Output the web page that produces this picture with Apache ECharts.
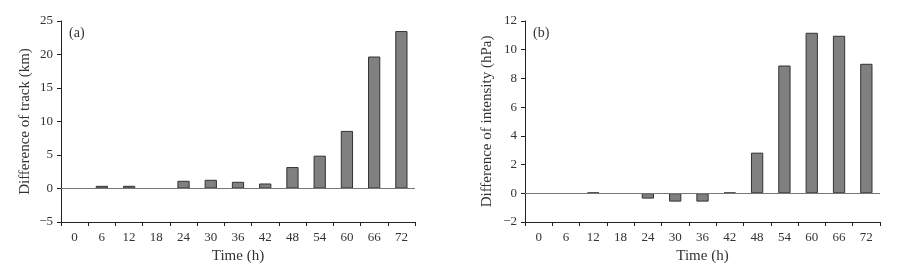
<!DOCTYPE html>
<html><head><meta charset="utf-8">
<script src="https://cdn.jsdelivr.net/npm/echarts@6/dist/echarts.min.js"></script>
<style>html,body{margin:0;padding:0;background:#fff}#c{width:909px;height:264px}</style>
</head><body><div id="c"></div>
<script>
const hours = ['0','6','12','18','24','30','36','42','48','54','60','66','72'];
const trackDiff = [0, 0.4, 0.4, 0, 1.15, 1.3, 1.0, 0.75, 3.2, 4.9, 8.6, 19.7, 23.5];
const intensityDiff = [0, 0, 0.05, 0, -0.37, -0.58, -0.58, 0.05, 2.83, 8.9, 11.18, 10.97, 9.02];
const trackTicks = {min: -5, max: 25, interval: 5};
const intensityTicks = {min: -2, max: 12, interval: 2};

const font = 'Liberation Serif';
const txt = '#333';
const axisCol = '#222';
const fmt = v => String(v).replace('-', '\u2212');

function xAx(gi){
  return {type:'category', gridIndex:gi, data:hours,
    axisLine:{onZero:false, lineStyle:{color:axisCol, width:1}},
    axisTick:{show:true, length:4, lineStyle:{color:axisCol}},
    axisLabel:{interval:0, color:txt, fontFamily:font, fontSize:13, margin:9},
    name:'Time (h)', nameLocation:'middle', nameGap:25,
    nameTextStyle:{color:txt, fontFamily:font, fontSize:15}};
}
function yAx(gi, t, name, gap){
  return {type:'value', gridIndex:gi, min:t.min, max:t.max, interval:t.interval,
    splitLine:{show:false},
    axisLine:{show:true, lineStyle:{color:axisCol, width:1}},
    axisTick:{show:true, length:4, lineStyle:{color:axisCol}},
    axisLabel:{color:txt, fontFamily:font, fontSize:13, margin:8, formatter:fmt},
    name:name, nameLocation:'middle', nameGap:gap,
    nameTextStyle:{color:txt, fontFamily:font, fontSize:15}};
}
function ser(i, data){
  return {type:'bar', xAxisIndex:i, yAxisIndex:i,
    data:data.map(v => v === 0 ? {value:v, itemStyle:{borderWidth:0}} : v),
    barWidth:'45%',
    itemStyle:{color:'#808080', borderColor:'#333', borderWidth:1},
    markLine:{silent:true, symbol:'none', label:{show:false},
      lineStyle:{color:'#777', width:1, type:'solid'}, data:[{yAxis:0}]}};
}
const chart = echarts.init(document.getElementById('c'), null, {renderer:'canvas'});
chart.setOption({
  animation:false,
  grid:[{left:61, top:21, width:354, height:201, outerBoundsMode:'none', containLabel:false},
        {left:525, top:21, width:355, height:201, outerBoundsMode:'none', containLabel:false}],
  xAxis:[xAx(0), xAx(1)],
  yAxis:[yAx(0, trackTicks, 'Difference of track (km)', 28), yAx(1, intensityTicks, 'Difference of intensity (hPa)', 30)],
  graphic:[
    {type:'text', left:69, top:26, style:{text:'(a)', font:'14px "Liberation Serif"', fill:txt}},
    {type:'text', left:533, top:26, style:{text:'(b)', font:'14px "Liberation Serif"', fill:txt}}
  ],
  series:[ser(0, trackDiff), ser(1, intensityDiff)]
});
</script></body></html>
